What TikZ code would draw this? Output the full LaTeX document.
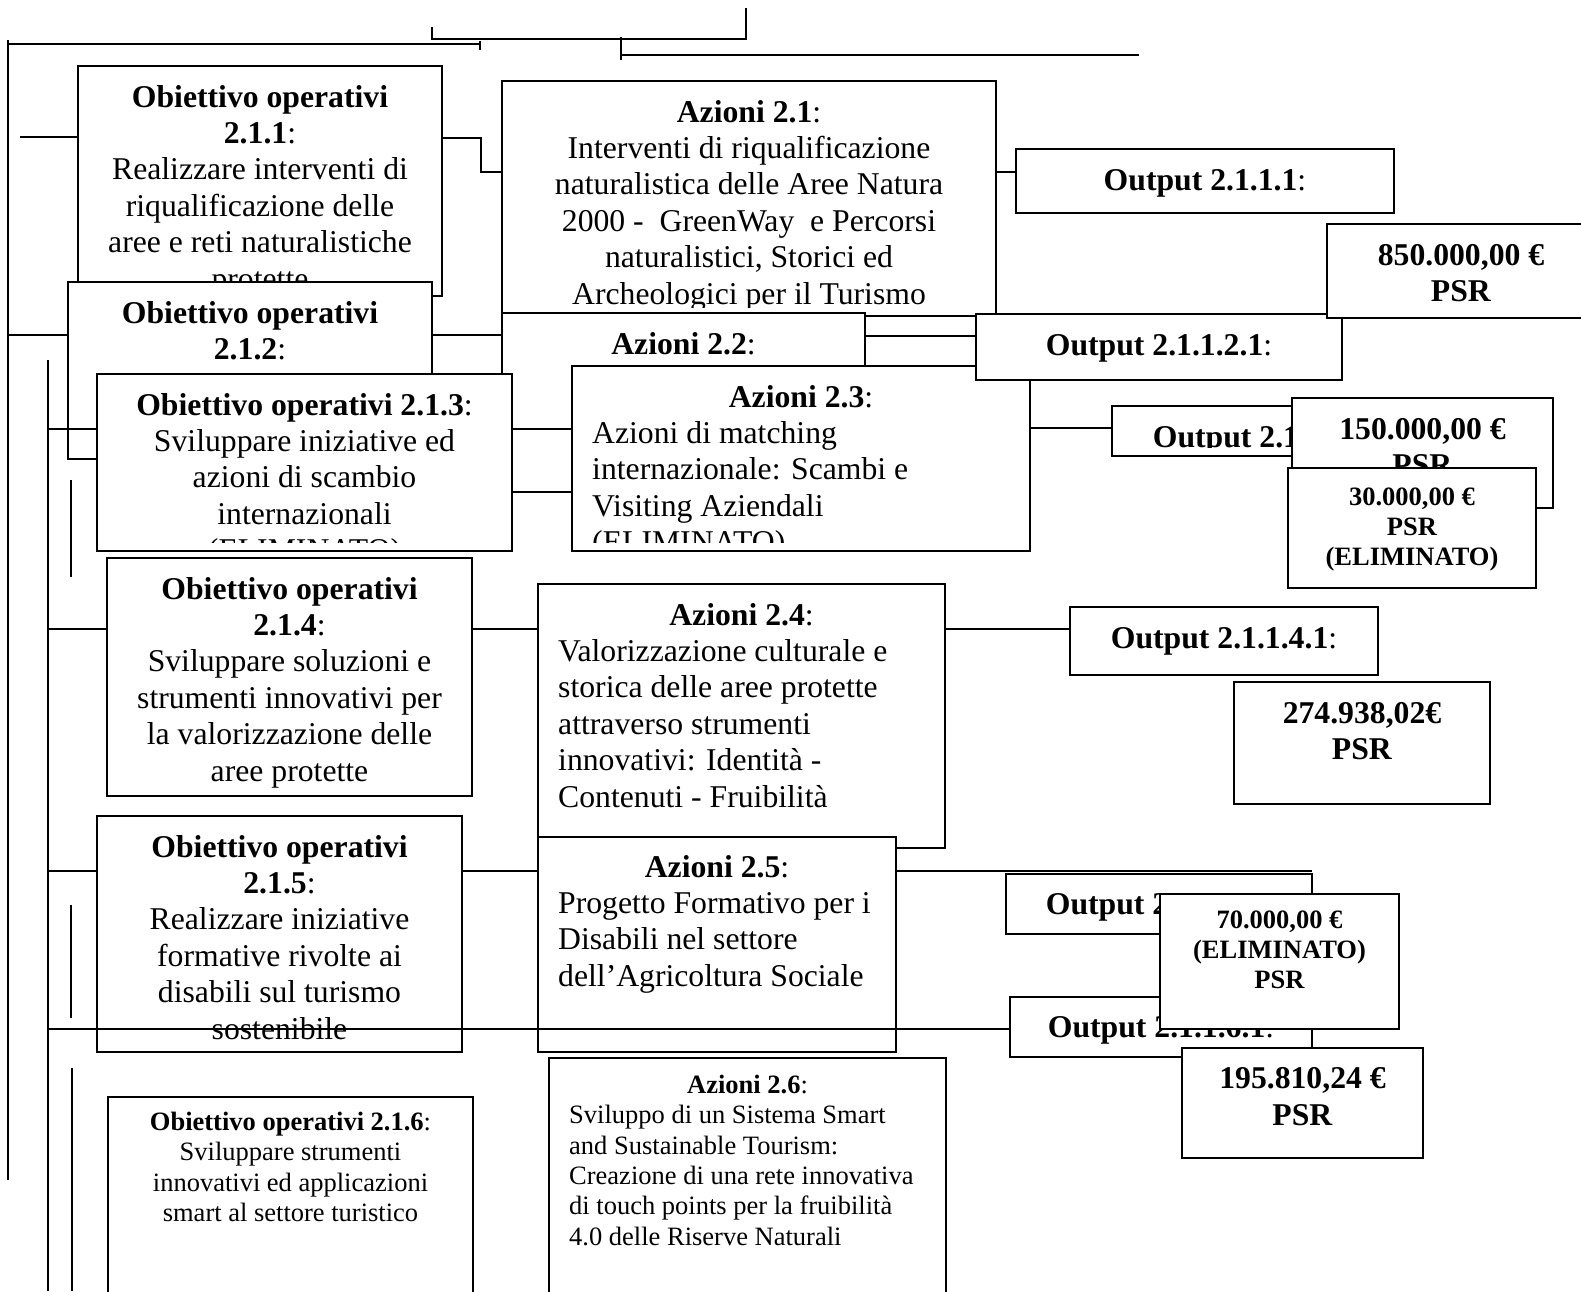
\documentclass[tikz,border=0pt]{standalone}
\usepackage{fontspec}
\setmainfont{Liberation Serif}
\usetikzlibrary{fit}
\setlength\parindent{0pt}
\newcommand\Lg{\fontsize{31.7}{36.4}\selectfont}
\newcommand\Sm{\fontsize{26.5}{30.4}\selectfont}
\tikzset{
  bx/.style={draw, fill=white, line width=1.8pt, inner sep=0pt, outer sep=0pt},
  ln/.style={line width=1.8pt},
  tc/.style={anchor=north, align=center, inner sep=0pt},
  tl/.style={anchor=north west, align=left, inner sep=0pt},
}
% box: name, x1, y1, x2, y2
\newcommand\bxat[5]{\node[bx, fit={(#2,#3) (#4,#5)}] (#1) {};}
% centred text: name, font, offset, text
\newcommand\ctx[4]{%
  \begin{scope}
    \clip (#1.north west) rectangle ([yshift=9pt]#1.south east);
    \node[tc, font=#2] (#1t) at ([yshift=-#3pt]#1.north) {\strut #4};
  \end{scope}}
% centred title + left body: name, font, offset, baselineskip, title, body
\newcommand\ltx[6]{%
  \begin{scope}
    \clip (#1.north west) rectangle ([yshift=9pt]#1.south east);
    \node[tc, font=#2] (#1t) at ([yshift=-#3pt]#1.north) {\strut #5};
    \node[tl, font=#2] (#1b) at ([xshift=20pt,yshift=-#3pt-#4pt]#1.north west) {\strut #6};
  \end{scope}}
\begin{document}
\begin{tikzpicture}[x=1pt,y=-1pt]
\useasboundingbox[fill=white] (0,0) rectangle (1581,1291);

% ---- objectives 2.1.1 - 2.1.3
\bxat{o211}{78}{66}{442}{296}
\ctx{o211}{\Lg}{15.5}{\textbf{Obiettivo operativi}\\\textbf{2.1.1}:\\Realizzare interventi di\\riqualificazione delle\\aree e reti naturalistiche\\protette}
\bxat{o212}{68}{282}{432}{459}
\ctx{o212}{\Lg}{15.5}{\textbf{Obiettivo operativi}\\\textbf{2.1.2}:}

% ---- actions 2.1 - 2.3
\bxat{a21}{502}{81}{996}{316}
\ctx{a21}{\Lg}{15.5}{\textbf{Azioni 2.1}:\\Interventi di riqualificazione\\naturalistica delle Aree Natura\\2000 -\ \ GreenWay\ \ e Percorsi\\naturalistici, Storici ed\\Archeologici per il Turismo}
\bxat{a22}{502}{313}{865}{492}
\ctx{a22}{\Lg}{15.5}{\textbf{Azioni 2.2}:}
\bxat{o213}{97}{374}{512}{551}
\ctx{o213}{\Lg}{15.5}{\textbf{Obiettivo operativi 2.1.3}:\\Sviluppare iniziative ed\\azioni di scambio\\internazionali\\(ELIMINATO)}
\bxat{a23}{572}{366}{1030}{551}
\ltx{a23}{\Lg}{15.5}{36.4}{\textbf{Azioni 2.3}:}{Azioni di matching\\internazionale: Scambi e\\Visiting Aziendali\\(ELIMINATO)}

% ---- outputs top
\bxat{op1}{1016}{149}{1394}{213}
\ctx{op1}{\Lg}{15.5}{\textbf{Output 2.1.1.1}:}
\bxat{op2}{976}{314}{1342}{380}
\ctx{op2}{\Lg}{15.5}{\textbf{Output 2.1.1.2.1}:}
\bxat{m850}{1327}{224}{1595}{318}
\ctx{m850}{\Lg}{15.5}{\textbf{850.000,00 €}\\\textbf{PSR}}
\bxat{op3}{1112}{406}{1420}{456}
\ctx{op3}{\Lg}{15.5}{\textbf{Output 2.1.1.3.1}:}
\bxat{m150}{1292}{398}{1553}{508}
\ctx{m150}{\Lg}{15.5}{\textbf{150.000,00 €}\\\textbf{PSR}}
\bxat{m30}{1288}{468}{1536}{588}
\ctx{m30}{\Sm}{15.7}{\textbf{30.000,00 €}\\\textbf{PSR}\\\textbf{(ELIMINATO)}}

% ---- 2.1.4
\bxat{o214}{107}{558}{472}{796}
\ctx{o214}{\Lg}{15.5}{\textbf{Obiettivo operativi}\\\textbf{2.1.4}:\\Sviluppare soluzioni e\\strumenti innovativi per\\la valorizzazione delle\\aree protette}
\bxat{a24}{538}{584}{945}{848}
\ltx{a24}{\Lg}{15.5}{36.4}{\textbf{Azioni 2.4}:}{Valorizzazione culturale e\\storica delle aree protette\\attraverso strumenti\\innovativi: Identità -\\Contenuti - Fruibilità}
\bxat{op4}{1070}{607}{1378}{675}
\ctx{op4}{\Lg}{15.5}{\textbf{Output 2.1.1.4.1}:}
\bxat{m274}{1234}{682}{1490}{804}
\ctx{m274}{\Lg}{15.5}{\textbf{274.938,02€}\\\textbf{PSR}}

% ---- 2.1.5
\bxat{o215}{97}{816}{462}{1052}
\ctx{o215}{\Lg}{15.5}{\textbf{Obiettivo operativi}\\\textbf{2.1.5}:\\Realizzare iniziative\\formative rivolte ai\\disabili sul turismo\\sostenibile}
\bxat{a25}{538}{837}{896}{1052}
\ltx{a25}{\Lg}{14.5}{36.4}{\textbf{Azioni 2.5}:}{Progetto Formativo per i\\Disabili nel settore\\dell’Agricoltura Sociale}
\bxat{op5}{1006}{874}{1312}{934}
\ctx{op5}{\Lg}{14.5}{\textbf{Output 2.1.1.5.1}:}
\bxat{op6}{1010}{997}{1312}{1057}
\ctx{op6}{\Lg}{14.5}{\textbf{Output 2.1.1.6.1}:}
\bxat{m70}{1160}{894}{1399}{1029}
\ctx{m70}{\Sm}{12.7}{\textbf{70.000,00 €}\\\textbf{(ELIMINATO)}\\\textbf{PSR}}
\bxat{m195}{1182}{1048}{1423}{1158}
\ctx{m195}{\Lg}{15}{\textbf{195.810,24 €}\\\textbf{PSR}}

% ---- 2.1.6
\bxat{o216}{108}{1097}{473}{1310}
\ctx{o216}{\Sm}{11.7}{\textbf{Obiettivo operativi 2.1.6}:\\Sviluppare strumenti\\innovativi ed applicazioni\\smart al settore turistico}
\bxat{a26}{549}{1058}{946}{1310}
\ltx{a26}{\Sm}{13.7}{30.4}{\textbf{Azioni 2.6}:}{Sviluppo di un Sistema Smart\\and Sustainable Tourism:\\Creazione di una rete innovativa\\di touch points per la fruibilità\\4.0 delle Riserve Naturali}

% ---- connectors
\coordinate (tl1) at (432,27);
\coordinate (tl2) at (746,8);
\coordinate (tk1) at (621,37);
\coordinate (tk2) at (1139,55);
\coordinate (lv1) at (8,40);
\coordinate (lv2) at (8,1180);
\draw[ln] (tl1) -- (432,39) -- (746,39) -- (tl2);
\draw[ln] (lv1) -- (lv2);
\draw[ln] (8,44) -- (480,44);
\draw[ln] (480,41) -- (480,50);
\draw[ln] (tk1) -- (621,60);
\draw[ln] (621,55) -- (tk2);

\draw[ln] (20,137) -- (o211.west |- 0,137);
\draw[ln] (o211.east |- 0,138) -- (481,138) -- (481,172) -- (a21.west |- 0,172);
\draw[ln] (a21.east |- 0,172) -- (op1.west |- 0,172);
\draw[ln] (8,335) -- (o212.west |- 0,335);
\draw[ln] (o212.east |- 0,335) -- (a22.west |- 0,335);
\draw[ln] (a22.east |- 0,336) -- (op2.west |- 0,336);
\draw[ln] (48,360) -- (48,1291);
\draw[ln] (48,429) -- (o213.west |- 0,429);
\draw[ln] (o213.east |- 0,429) -- (a23.west |- 0,429);
\draw[ln] (a23.east |- 0,428) -- (op3.west |- 0,428);
\draw[ln] (71,480) -- (71,577);
\draw[ln] (71,905) -- (71,1018);
\draw[ln] (72,1068) -- (72,1291);
\draw[ln] (48,629) -- (o214.west |- 0,629);
\draw[ln] (o214.east |- 0,629) -- (a24.west |- 0,629);
\draw[ln] (a24.east |- 0,629) -- (op4.west |- 0,629);
\draw[ln] (48,871) -- (o215.west |- 0,871);
\draw[ln] (o215.east |- 0,871) -- (a25.west |- 0,871);
\draw[ln] (a25.east |- 0,871) -- (op5.east |- 0,871);
\draw[ln] (48,1029) -- (op6.west |- 0,1029);
\end{tikzpicture}
\end{document}
